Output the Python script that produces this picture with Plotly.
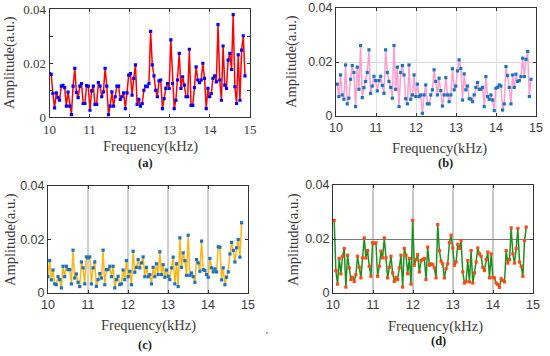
import numpy as np
import plotly.graph_objects as go

# ---- data (amplitude in units of 1e-3 a.u.) ----
amp_a = [16.1, 15.8, 8.7, 3.4, 8.9, 7.2, 6.2, 11.4, 11.7, 10.9, 4.0, 9.2, 4.0, 0.9, 11.4, 18.0, 9.1, 7.2,
         11.4, 12.4, 5.0, 5.0, 11.6, 11.4, 2.5, 9.7, 11.4, 4.7, 4.7, 12.7, 11.4, 7.5, 9.3, 18.0, 11.4, 0.9,
         4.0, 9.3, 4.0, 7.5, 11.4, 11.4, 6.5, 7.5, 8.9, 3.1, 8.9, 15.5, 16.1, 8.1, 14.3, 19.3, 4.7, 6.5,
         4.0, 5.0, 9.9, 11.4, 11.2, 12.4, 31.7, 19.3, 15.2, 9.9, 7.5, 13.4, 13.7, 3.1, 6.8, 10.6, 12.4,
         10.6, 28.6, 12.4, 3.1, 6.2, 13.7, 23.6, 10.6, 14.9, 11.8, 7.5, 7.5, 25.1, 4.3, 4.3, 10.9, 18.6,
         13.7, 12.7, 13.7, 19.9, 14.3, 3.1, 10.6, 7.5, 8.7, 14.3, 15.2, 13.0, 34.2, 13.7, 6.2, 26.3, 11.8,
         10.6, 21.1, 23.6, 17.6, 37.9, 11.2, 5.0, 23.0, 6.2, 24.8, 30.1, 15.2]
amp_b = [11.8, 7.2, 15.2, 7.8, 6.2, 18.9, 4.5, 6.6, 13.6, 18.7, 16.1, 3.5, 18.1, 9.9, 26.1, 6.8, 10.5, 12.8,
         16.1, 24.5, 8.4, 11.1, 14.7, 13.1, 9.3, 13.1, 14.7, 11.3, 8.4, 24.5, 16.1, 12.8, 10.6, 6.6, 26.1,
         9.9, 18.1, 3.5, 16.1, 18.7, 15.2, 6.4, 4.5, 18.9, 6.2, 7.8, 15.2, 7.2, 11.8, 7.2, 7.8, 1.0, 7.8,
         11.5, 4.5, 4.5, 7.8, 9.7, 17.1, 12.8, 7.8, 14.0, 9.4, 3.7, 7.8, 14.2, 7.8, 5.3, 7.8, 17.5, 9.7,
         11.1, 16.7, 20.8, 17.6, 5.9, 15.6, 9.7, 11.1, 6.4, 6.3, 5.3, 7.8, 10.6, 12.4, 9.9, 9.9, 10.6, 3.5,
         14.6, 7.2, 6.2, 7.8, 5.9, 2.0, 10.3, 10.6, 11.5, 11.1, 2.2, 4.5, 18.3, 15.0, 10.6, 4.5, 15.2, 10.6,
         15.5, 12.8, 13.1, 14.6, 21.4, 14.6, 21.0, 23.9, 7.2, 13.6]
amp_c = [6.1, 12.1, 4.9, 8.6, 3.4, 3.1, 6.1, 5.0, 1.9, 10.0, 6.1, 10.0, 8.75, 8.75, 3.4, 16.0, 5.6, 7.1, 4.0,
         2.4, 11.6, 9.4, 3.4, 13.5, 13.1, 13.5, 3.4, 9.4, 11.6, 2.5, 5.0, 7.25, 5.6, 16.0, 3.1, 8.75, 8.75,
         10.0, 6.1, 10.0, 1.9, 5.0, 6.25, 3.1, 3.4, 8.6, 5.0, 12.1, 6.1, 8.1, 3.1, 15.6, 7.75, 9.6, 12.5,
         9.4, 11.25, 13.5, 6.1, 9.6, 6.1, 6.9, 3.4, 9.6, 6.1, 10.9, 6.9, 15.4, 6.9, 10.6, 5.9, 8.6, 6.25,
         5.0, 9.4, 13.4, 3.4, 10.9, 2.4, 20.6, 9.6, 15.0, 12.1, 6.6, 21.6, 6.6, 7.5, 6.1, 4.0, 12.5, 11.25,
         8.1, 19.4, 8.75, 8.4, 6.9, 5.9, 12.9, 9.4, 7.9, 9.0, 7.9, 17.25, 17.1, 4.9, 9.4, 3.1, 5.9, 7.9,
         14.6, 18.9, 15.9, 11.6, 16.9, 20.0, 13.4, 26.25]
amp_d = [26.9, 8.3, 3.3, 12.8, 7.1, 13.6, 16.5, 2.2, 14.0, 9.3, 5.0, 5.8, 4.3, 6.8, 13.6, 9.5, 5.6, 13.0,
         20.4, 13.0, 15.7, 9.9, 6.2, 18.6, 18.3, 18.6, 6.2, 9.9, 15.5, 13.0, 20.4, 13.0, 5.6, 9.5, 13.6,
         7.4, 4.3, 5.8, 5.0, 9.3, 14.0, 2.2, 16.5, 14.0, 7.1, 12.8, 3.3, 26.9, 10.3, 12.4, 14.2, 7.8, 12.0,
         12.4, 12.8, 5.0, 17.0, 10.3, 10.8, 10.5, 9.3, 5.6, 25.4, 15.7, 11.8, 10.8, 5.6, 9.0, 10.8, 18.6,
         21.4, 16.7, 10.3, 11.5, 18.0, 16.5, 19.4, 7.8, 3.7, 4.3, 12.0, 4.1, 15.7, 3.7, 7.4, 11.5, 16.7,
         14.5, 13.6, 9.5, 8.3, 12.4, 15.2, 5.6, 14.5, 5.8, 5.6, 3.7, 3.1, 2.1, 5.3, 4.6, 4.1, 15.7, 11.1,
         12.4, 24.1, 14.5, 11.1, 16.5, 23.9, 11.5, 9.9, 6.2, 19.4, 24.4]

# first / last frequency of each record (kHz)
f_range_a = (10.0, 14.875)
f_range_b = (10.03, 14.875)
f_range_c = (10.0, 14.84)
f_range_d = (10.03, 14.83)

x_ticks = [10, 11, 12, 13, 14, 15]
labels = ["(a)", "(b)", "(c)", "(d)"]

SERIF = "Liberation Serif, Times New Roman, Times, serif"
SANS = "Liberation Sans, Arial, Helvetica, sans-serif"
TXT = "#3a3a3a"

panels = [
    dict(amp=amp_a, fr=f_range_a, line="#ff0000", mk="#0000ff", dom=([49.5, 250], [9, 117]),
         tickfont=SERIF, tsize=13, xgrid="#e6e6e6", xgw=1, ygrid=None, yt=[0, 0.01, 0.02, 0.03, 0.04],
         ytt=["0", "", "0.02", "", "0.04"], lab=(145, 163), ytitle=(10, 63), xtitle=(150, 146)),
    dict(amp=amp_b, fr=f_range_b, line="#ff9fd0", mk="#1a72c4", dom=([336, 536], [8, 116]),
         tickfont=SANS, tsize=12.5, xgrid="#e0e0e0", xgw=1, ygrid="#d8d8d8", yt=[0, 0.02, 0.04],
         ytt=["0", "0.02", "0.04"], lab=(445, 163), ytitle=(292, 62), xtitle=(439, 148)),
    dict(amp=amp_c, fr=f_range_c, line="#ffb615", mk="#1a72c4", dom=([48, 248], [186, 293]),
         tickfont=SANS, tsize=12.5, xgrid="#cfcfcf", xgw=1.6, ygrid=None, yt=[0, 0.02, 0.04],
         ytt=["0", "0.02", "0.04"], lab=(145, 345), ytitle=(10, 240), xtitle=(148, 325)),
    dict(amp=amp_d, fr=f_range_d, line="#1f8f1f", mk="#ff4a14", dom=([333, 533], [185, 293]),
         tickfont=SANS, tsize=12.5, xgrid="#c8c8c8", xgw=1.6, ygrid="#7a7a7a", yt=[0, 0.02, 0.04],
         ytt=["0", "0.02", "0.04"], lab=(438, 341), ytitle=(293, 240), xtitle=(435, 326)),
]

W, H = 550, 356
fig = go.Figure()
annotations = []
for i, p in enumerate(panels):
    n = len(p["amp"])
    freq = np.linspace(p["fr"][0], p["fr"][1], n)
    vals = np.array(p["amp"]) * 1e-3
    sfx = "" if i == 0 else str(i + 1)
    fig.add_trace(go.Scatter(
        x=freq, y=vals, mode="lines+markers", xaxis="x" + sfx, yaxis="y" + sfx,
        line=dict(color=p["line"], width=1.5),
        marker=dict(symbol="square", size=3.2, color=p["mk"], line=dict(width=0)),
        showlegend=False, hoverinfo="skip"))
    (x0, x1), (y0, y1) = p["dom"]
    xa = dict(domain=[x0 / W, x1 / W], range=[10, 15], tickvals=x_ticks,
              ticks="inside", ticklen=3, tickcolor="#333333", automargin=False,
              showline=True, linecolor="#333333", linewidth=1, mirror="ticks",
              showgrid=True, gridcolor=p["xgrid"], gridwidth=p["xgw"], zeroline=False,
              tickfont=dict(family=p["tickfont"], size=p["tsize"], color=TXT),
              anchor="y" + sfx, fixedrange=True)
    ya = dict(domain=[1 - y1 / H, 1 - y0 / H], range=[0, 0.04], tickvals=p["yt"], ticktext=p["ytt"],
              ticks="inside", ticklen=3, tickcolor="#333333", automargin=False,
              showline=True, linecolor="#333333", linewidth=1, mirror="ticks",
              showgrid=p["ygrid"] is not None, gridcolor=p["ygrid"] or "#ffffff", gridwidth=1,
              zeroline=False,
              tickfont=dict(family=p["tickfont"], size=p["tsize"], color=TXT),
              anchor="x" + sfx, fixedrange=True)
    fig.update_layout(**{"xaxis" + sfx: xa, "yaxis" + sfx: ya})
    annotations.append(dict(x=p["xtitle"][0] / W, y=1 - p["xtitle"][1] / H, xref="paper", yref="paper",
                            text="Frequency(kHz)", showarrow=False, xanchor="center", yanchor="middle",
                            font=dict(family=SERIF, size=14.5, color=TXT)))
    annotations.append(dict(x=p["ytitle"][0] / W, y=1 - p["ytitle"][1] / H, xref="paper", yref="paper",
                            text="Amplitude(a.u.)", textangle=-90, showarrow=False,
                            xanchor="center", yanchor="middle",
                            font=dict(family=SERIF, size=14.5, color=TXT)))
    annotations.append(dict(x=p["lab"][0] / W, y=1 - p["lab"][1] / H, xref="paper", yref="paper",
                            text="<b>" + labels[i] + "</b>", showarrow=False,
                            xanchor="center", yanchor="middle",
                            font=dict(family=SERIF, size=12.5, color="#222222")))

annotations.append(dict(x=267 / W, y=1 - 343 / H, xref="paper", yref="paper", text="'",
                        showarrow=False, font=dict(family=SERIF, size=10, color="#333333")))

fig.update_layout(width=W, height=H, margin=dict(l=0, r=0, t=0, b=0, autoexpand=False),
                  paper_bgcolor="white", plot_bgcolor="white", annotations=annotations)
fig.write_html("out.html", config={"displayModeBar": False, "staticPlot": True},
               post_script="document.body.style.margin='0px';document.body.style.overflow='hidden';")
